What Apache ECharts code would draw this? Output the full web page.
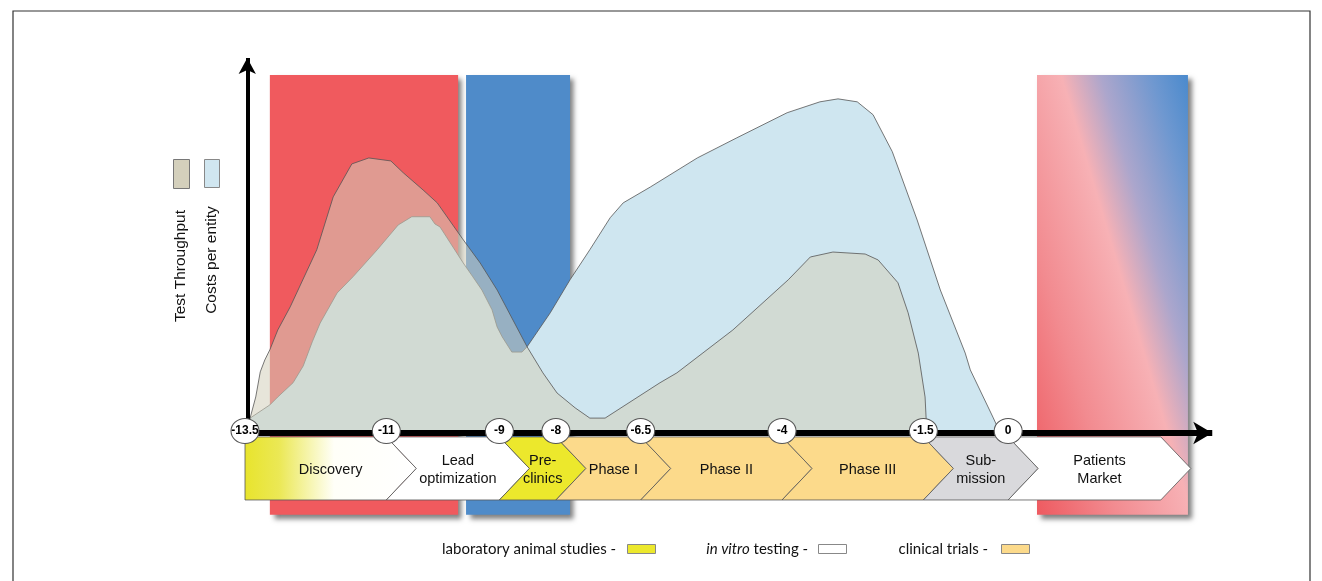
<!DOCTYPE html>
<html><head><meta charset="utf-8">
<script src="https://cdn.jsdelivr.net/npm/echarts@6/dist/echarts.min.js"></script>
<style>html,body{margin:0;padding:0;background:#fff}#c{width:1322px;height:581px}</style>
</head><body><div id="c"></div>
<script>
// ---------------- data ----------------
const milestones = [-13.5, -11, -9, -8, -6.5, -4, -1.5, 0];
const milestoneLabels = ['-13.5', '-11', '-9', '-8', '-6.5', '-4', '-1.5', '0'];

const phaseNames = ['Discovery', 'Lead\noptimization', 'Pre-\nclinics', 'Phase I', 'Phase II', 'Phase III', 'Sub-\nmission', 'Patients\nMarket'];
const phaseStart = [-13.5, -11, -9, -8, -6.5, -4, -1.5, 0];
const phaseEnd = [-11, -9, -8, -6.5, -4, -1.5, 0, 2.7];
const phaseKind = ['discovery', 'in vitro', 'animal', 'clinical', 'clinical', 'clinical', 'submission', 'in vitro'];

const bandStart = [-13.06, -9.59, 0.51];
const bandEnd = [-9.73, -7.75, 3.18];
const bandKind = ['red', 'blue', 'mixed'];

const seriesNames = ['Test Throughput', 'Costs per entity'];
const throughput = [
  [-13.5, 0], [-13.41, 4.5], [-13.31, 10.9], [-13.23, 18.5], [-13.15, 22.1], [-13.06, 25.2], [-12.92, 31.2],
  [-12.70, 38.2], [-12.23, 55.5], [-11.94, 71.5], [-11.61, 81.5], [-11.31, 83.3], [-10.92, 82.4],
  [-10.70, 78.8], [-10.35, 73.6], [-10.10, 69.7], [-9.66, 59.0], [-9.34, 51.5], [-9.04, 43.3],
  [-8.76, 34.2], [-8.51, 26.1], [-8.23, 18.2], [-7.98, 12.1], [-7.66, 7.6], [-7.40, 4.5], [-7.13, 4.5],
  [-6.16, 15.2], [-5.86, 18.2], [-4.87, 31.2], [-3.89, 46.4], [-3.50, 53.3], [-3.10, 54.8], [-2.53, 54.2],
  [-2.30, 52.4], [-1.95, 45.5], [-1.77, 36.4], [-1.59, 24.2], [-1.47, 10.9], [-1.45, 3.9], [-1.45, 0]
];
const costs = [
  [-13.5, 0], [-13.41, 4.5], [-13.06, 8.5], [-12.92, 10.9], [-12.65, 15.2], [-12.47, 20.3], [-12.31, 27.6],
  [-12.17, 33.3], [-11.87, 42.4], [-11.59, 47.3], [-11.16, 55.5], [-10.79, 63.0], [-10.55, 65.5],
  [-10.23, 65.5], [-10.14, 63.3], [-10.05, 62.4], [-9.87, 57.6], [-9.64, 51.5], [-9.47, 47.3],
  [-9.31, 43.3], [-9.13, 37.3], [-9.04, 32.1], [-8.95, 29.1], [-8.78, 24.5], [-8.60, 24.5], [-8.51, 26.1],
  [-8.10, 36.4], [-7.75, 46.4], [-7.40, 55.5], [-7.04, 65.2], [-6.81, 69.7], [-6.33, 74.5], [-5.50, 83.3],
  [-4.80, 89.4], [-3.91, 97.0], [-3.33, 100.3], [-3.01, 101.2], [-2.67, 100.3], [-2.39, 96.4],
  [-2.05, 85.2], [-1.61, 64.5], [-1.20, 43.3], [-0.76, 24.2], [-0.67, 19.1], [-0.27, 4.8], [-0.14, 0]
];

const bottomLegend = ['laboratory animal studies - ', '{i|in vitro} testing - ', 'clinical trials - '];
const bottomLegendKind = ['animal', 'in vitro', 'clinical'];

// ---------------- styles / layout ----------------
const FONT = '"Liberation Sans", Arial, sans-serif';
const phaseFill = {
  'in vitro': '#ffffff',
  'animal': '#ece82c',
  'clinical': '#fcda8b',
  'submission': '#d9d9dc'
};
const BAND_TOP = 108.4, BAND_BOTTOM = -24.8;
const CH_TOP = -1.2, CH_BOT = -20.3;
const CH_DEPTH = 30;

const chart = echarts.init(document.getElementById('c'), null, { renderer: 'canvas' });

function bandItem(params, api) {
  const i = params.dataIndex;
  const p0 = api.coord([api.value(0), BAND_TOP]);
  const p1 = api.coord([api.value(1), BAND_BOTTOM]);
  const x = p0[0], y = p0[1], w = p1[0] - p0[0], h = p1[1] - p0[1];
  let fill;
  const kind = bandKind[i];
  if (kind === 'red') fill = '#f05a5e';
  else if (kind === 'blue') fill = '#4f8bc9';
  else {
    const ux = 0.958, uy = -0.285;
    const cx = x + w / 2, cy = y + h / 2;
    const hp = Math.abs(w / 2 * ux) + Math.abs(h / 2 * uy);
    fill = new echarts.graphic.LinearGradient(cx - hp * ux, cy - hp * uy, cx + hp * ux, cy + hp * uy, [
      { offset: 0, color: '#ee5a60' },
      { offset: 0.28, color: '#f28b90' },
      { offset: 0.55, color: '#f7b1b5' },
      { offset: 0.69, color: '#aca6cc' },
      { offset: 0.87, color: '#6f98d0' },
      { offset: 1, color: '#4a8acd' }
    ], true);
  }
  return {
    type: 'rect', shape: { x, y, width: w, height: h },
    style: { fill, shadowBlur: 5, shadowOffsetX: 4, shadowOffsetY: 4, shadowColor: 'rgba(0,0,0,0.5)' }
  };
}

function phaseItem(params, api) {
  const i = params.dataIndex;
  const x0 = api.coord([api.value(0), 0])[0];
  const x1 = api.coord([api.value(1), 0])[0];
  const yT = api.coord([0, CH_TOP])[1];
  const yB = api.coord([0, CH_BOT])[1];
  const yM = (yT + yB) / 2;
  const D = CH_DEPTH;
  const pts = [[x0, yT], [x1, yT], [x1 + D, yM], [x1, yB], [x0, yB]];
  if (i > 0) pts.push([x0 + D, yM]);
  const kind = phaseKind[i];
  let fill = phaseFill[kind];
  if (kind === 'discovery') {
    fill = new echarts.graphic.LinearGradient(0, 0, 1, 0, [
      { offset: 0, color: '#e8e42c' },
      { offset: 0.2, color: '#ebe855' },
      { offset: 0.52, color: '#fffff8' },
      { offset: 1, color: '#ffffff' }
    ]);
  }
  return {
    type: 'group',
    children: [
      { type: 'polygon', shape: { points: pts }, style: { fill, stroke: '#555', lineWidth: 0.8 } },
      {
        type: 'text', x: (x0 + x1 + D) / 2, y: yM + 2,
        style: { text: phaseNames[i], align: 'center', verticalAlign: 'middle', font: '14.5px ' + FONT, fill: '#111', lineHeight: 18 }
      }
    ]
  };
}

// legend graphics (left, rotated) and bottom legend
const graphics = [
  { type: 'rect', shape: { x: 13, y: 11, width: 1297, height: 600 }, style: { fill: 'none', stroke: '#333', lineWidth: 1.2 }, silent: true },
  { type: 'rect', shape: { x: 173.5, y: 159.5, width: 16, height: 29 }, style: { fill: '#d4d0bc', stroke: '#777', lineWidth: 1 } },
  { type: 'rect', shape: { x: 204.5, y: 159.5, width: 15, height: 28 }, style: { fill: '#d0e6f0', stroke: '#888', lineWidth: 1 } },
  { type: 'text', x: 181, y: 266, rotation: Math.PI / 2, style: { text: seriesNames[0], align: 'center', verticalAlign: 'middle', font: '15.5px ' + FONT, fill: '#111' } },
  { type: 'text', x: 212, y: 260, rotation: Math.PI / 2, style: { text: seriesNames[1], align: 'center', verticalAlign: 'middle', font: '15.5px ' + FONT, fill: '#111' } }
];
const legendTextRight = [620, 812, 992];
const legendSwatchX = [627, 818, 1001];
bottomLegend.forEach((t, i) => {
  graphics.push({
    type: 'text', x: legendTextRight[i], y: 549,
    style: {
      text: t, align: 'right', verticalAlign: 'middle', font: '15px Lato, "Open Sans", sans-serif', fill: '#111',
      rich: { i: { fontStyle: 'italic', font: 'italic 15px Lato, "Open Sans", sans-serif', fill: '#111' } }
    }
  });
  const k = bottomLegendKind[i];
  graphics.push({
    type: 'rect', shape: { x: legendSwatchX[i] + 0.5, y: 544.5, width: 28, height: 9 },
    style: { fill: phaseFill[k], stroke: '#888', lineWidth: 1 }
  });
});

const option = {
  animation: false,
  backgroundColor: '#fff',
  grid: { left: 245, right: 87.7, top: 50, bottom: 49 },
  xAxis: { type: 'value', min: -13.5, max: 4, show: false },
  yAxis: { type: 'value', min: -30, max: 116, show: false },
  graphic: graphics,
  series: [
    { type: 'custom', name: 'bands', renderItem: bandItem, data: bandStart.map((s, i) => [s, bandEnd[i], i]), z: 1, clip: false, silent: true },
    {
      type: 'line', name: seriesNames[1], data: costs, symbol: 'none', smooth: false, z: 3,
      lineStyle: { color: '#555', width: 0.8 }, areaStyle: { color: '#cfe6f0', opacity: 1 }
    },
    {
      type: 'line', name: seriesNames[0], data: throughput, symbol: 'none', smooth: false, z: 4,
      lineStyle: { color: '#555', width: 0.8 }, areaStyle: { color: 'rgba(212,208,188,0.55)', opacity: 1 }
    },
    {
      type: 'line', name: 'axes', data: [[-13.5, 0]], symbol: 'none', z: 5, lineStyle: { width: 0 },
      markLine: {
        silent: true, animation: false, label: { show: false },
        data: [
          [{ coord: [-13.5, 0], symbol: 'none', lineStyle: { color: '#000', width: 6, type: 'solid' } },
           { coord: [3.61, 0], symbol: 'arrow', symbolSize: [17, 19] }],
          [{ coord: [-13.46, 0], symbol: 'none', lineStyle: { color: '#000', width: 4, type: 'solid' } },
           { coord: [-13.46, 113.6], symbol: 'arrow', symbolSize: [13, 16] }]
        ]
      }
    },
    { type: 'custom', name: 'phases', renderItem: phaseItem, data: phaseStart.map((s, i) => [s, phaseEnd[i], i]), z: 6, clip: false, silent: true },
    {
      type: 'scatter', name: 'milestones', data: milestones.map(m => [m, 0.6]), symbol: 'circle', symbolSize: [28, 25], z: 8,
      itemStyle: { color: '#fff', borderColor: '#555', borderWidth: 1, opacity: 1 },
      label: { show: true, position: 'inside', formatter: p => milestoneLabels[p.dataIndex], color: '#000', fontWeight: 'bold', fontSize: 12, fontFamily: FONT }
    }
  ]
};
chart.setOption(option);
</script>
</body></html>
